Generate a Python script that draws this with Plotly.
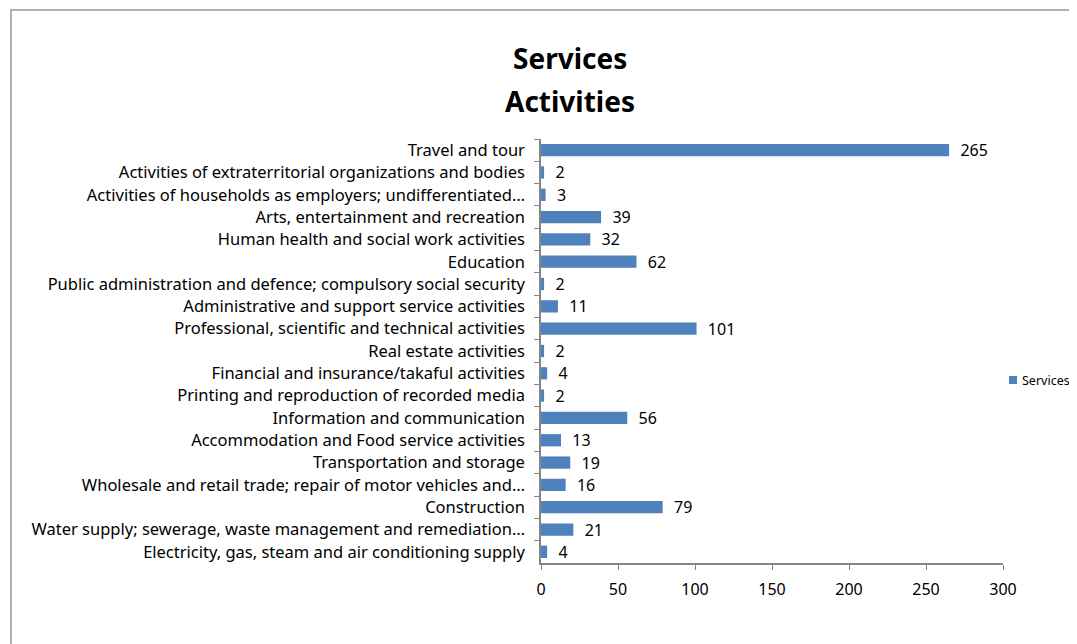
import plotly.graph_objects as go

categories = [
    "Travel and tour",
    "Activities of extraterritorial organizations and bodies",
    "Activities of households as employers; undifferentiated…",
    "Arts, entertainment and recreation",
    "Human health and social work activities",
    "Education",
    "Public administration and defence; compulsory social security",
    "Administrative and support service activities",
    "Professional, scientific and technical activities",
    "Real estate activities",
    "Financial and insurance/takaful activities",
    "Printing and reproduction of recorded media",
    "Information and communication",
    "Accommodation and Food service activities",
    "Transportation and storage",
    "Wholesale and retail trade; repair of motor vehicles and…",
    "Construction",
    "Water supply; sewerage, waste management and remediation…",
    "Electricity, gas, steam and air conditioning supply",
]
values = [265, 2, 3, 39, 32, 62, 2, 11, 101, 2, 4, 2, 56, 13, 19, 16, 79, 21, 4]
x_ticks = [0, 50, 100, 150, 200, 250, 300]
series_name = "Services"

FONT = "Noto Sans"
BAR = "#4F81BD"
AXIS = "#868686"

# page has an 8px body margin; figure coords = page coords - 8
W, H = 1069, 636
L, R, T, B = 533, 74, 131, 81
pw, ph = W - L - R, H - T - B


def px(x):
    return (x - L) / pw


def py(y):
    return (H - B - y) / ph


fig = go.Figure()
fig.add_trace(go.Bar(
    y=categories, x=values, orientation="h", name=series_name,
    marker=dict(color=BAR, line=dict(width=0)),
    width=0.55,
    text=[f"  {v}" for v in values], textposition="outside",
    constraintext="none",
    textfont=dict(family=FONT, size=16, color="#000000"),
    cliponaxis=False,
    showlegend=False,
))

fig.update_layout(
    width=W, height=H,
    margin=dict(l=L, r=R, t=T, b=B, autoexpand=False),
    paper_bgcolor="white", plot_bgcolor="white",
    font=dict(family=FONT, size=16, color="#000000"),
    showlegend=False,
    xaxis=dict(range=[0, 300], tickvals=x_ticks, ticks="outside", ticklen=5,
               tickcolor=AXIS, showline=True, linecolor=AXIS, linewidth=1.5,
               showgrid=False, zeroline=False, fixedrange=True,
               ticklabelstandoff=6,
               tickfont=dict(family=FONT, size=16, color="#000000")),
    yaxis=dict(autorange="reversed", ticks="outside", tickson="boundaries", ticklen=5,
               tickcolor=AXIS, showline=True, linecolor=AXIS, linewidth=1.5,
               showgrid=False, zeroline=False, ticklabelstandoff=11,
               tickfont=dict(family=FONT, size=16.5, color="#000000")),
    annotations=[
        dict(text="<b>Services</b>", xref="paper", yref="paper", x=px(562), y=py(50),
             xanchor="center", yanchor="middle", showarrow=False,
             font=dict(family=FONT, size=28, color="#000000")),
        dict(text="<b>Activities</b>", xref="paper", yref="paper", x=px(562), y=py(93),
             xanchor="center", yanchor="middle", showarrow=False,
             font=dict(family=FONT, size=28, color="#000000")),
        dict(text=series_name, xref="paper", yref="paper", x=px(1012), y=py(372),
             xanchor="left", yanchor="middle", showarrow=False,
             font=dict(family=FONT, size=12.5, color="#000000")),
    ],
    shapes=[
        dict(type="rect", xref="paper", yref="paper",
             x0=px(3), x1=px(W + 20), y0=py(H + 20), y1=py(2),
             line=dict(color="#b0b0b0", width=2), fillcolor="rgba(0,0,0,0)",
             layer="below"),
        dict(type="rect", xref="paper", yref="paper",
             x0=px(1001), x1=px(1009), y0=py(376), y1=py(368),
             line=dict(width=0), fillcolor=BAR),
    ],
)

fig.write_html("out.html")
